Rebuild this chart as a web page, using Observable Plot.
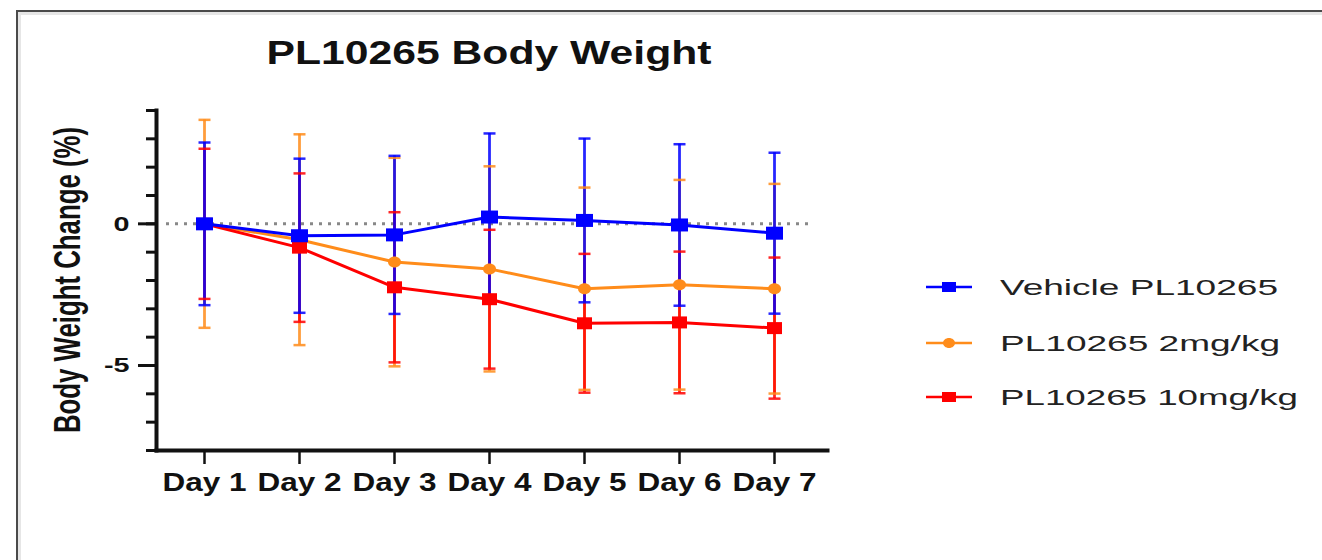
<!DOCTYPE html>
<html>
<head>
<meta charset="utf-8">
<script src="https://cdn.jsdelivr.net/npm/d3@7"></script>
<script src="https://cdn.jsdelivr.net/npm/@observablehq/plot@0.6"></script>
<style>
  html, body { margin: 0; padding: 0; background: #fff; }
  #wrap { position: relative; width: 1322px; height: 560px; overflow: hidden; font-family: "Liberation Sans", Arial, sans-serif; }
  #frame { position: absolute; left: 16px; top: 10px; width: 1400px; height: 700px;
           border-top: 2px solid #4a4a4a; border-left: 2px solid #4a4a4a;
           box-shadow: inset 3px 3px 0 #e6e6e6; }
  #chart { position: absolute; left: 0; top: 0; }
</style>
</head>
<body>
<div id="wrap"><div id="frame"></div><div id="chart"></div></div>
<script>
// ---- data ----
const titleText = "PL10265 Body Weight";
const yLabelText = "Body Weight Change (%)";
const days = ["Day 1", "Day 2", "Day 3", "Day 4", "Day 5", "Day 6", "Day 7"];
const seriesNames = ["Vehicle PL10265", "PL10265 2mg/kg", "PL10265 10mg/kg"];
const seriesColors = ["#0000ff", "#ff8c1a", "#ff0000"];
const vehicleMean = [0, -0.42, -0.39, 0.24, 0.12, -0.04, -0.33];
const vehicleSD   = [2.87, 2.72, 2.79, 2.95, 2.89, 2.85, 2.84];
const mg2Mean     = [0, -0.56, -1.35, -1.59, -2.29, -2.15, -2.29];
const mg2SD       = [3.67, 3.72, 3.68, 3.62, 3.57, 3.70, 3.70];
const mg10Mean    = [0, -0.84, -2.24, -2.66, -3.51, -3.48, -3.68];
const mg10SD      = [2.65, 2.62, 2.65, 2.45, 2.45, 2.50, 2.49];
const yMinorTicks = [-8, -7, -6, -5, -4, -3, -2, -1, 0, 1, 2, 3, 4];
const yMajorTicks = [-5, 0];
const yTickLabels = ["-5", "0"];

// ---- build rows (drawing order: 2mg, 10mg, vehicle on top) ----
const means = [vehicleMean, mg2Mean, mg10Mean];
const sds = [vehicleSD, mg2SD, mg10SD];
const drawOrder = [1, 2, 0];
const rows = drawOrder.flatMap(s => days.map((day, i) => ({
  series: seriesNames[s], day, mean: means[s][i], sd: sds[s][i],
  lo: means[s][i] - sds[s][i], hi: means[s][i] + sds[s][i]
})));
const bySeries = name => rows.filter(r => r.series === name);

// ---- custom marker shapes ----
const rectSymbol = (w, h) => ({ draw(ctx) {
  ctx.moveTo(-w / 2, -h / 2); ctx.lineTo(w / 2, -h / 2); ctx.lineTo(w / 2, h / 2); ctx.lineTo(-w / 2, h / 2); ctx.closePath();
}});
const ellipseSymbol = (a, b) => ({ draw(ctx) {
  const k = 0.5523;
  ctx.moveTo(a, 0);
  ctx.bezierCurveTo(a, k * b, k * a, b, 0, b);
  ctx.bezierCurveTo(-k * a, b, -a, k * b, -a, 0);
  ctx.bezierCurveTo(-a, -k * b, -k * a, -b, 0, -b);
  ctx.bezierCurveTo(k * a, -b, a, -k * b, a, 0);
  ctx.closePath();
}});
const capSymbol = (w) => ({ draw(ctx) { ctx.moveTo(-w / 2, 0); ctx.lineTo(w / 2, 0); } });
const markers = [rectSymbol(17, 13), ellipseSymbol(6.5, 5.5), rectSymbol(15, 12)];
const legendMarkers = [rectSymbol(14, 10), ellipseSymbol(6, 5), rectSymbol(14, 10)];
const cap = capSymbol(12);

const chart = Plot.plot({
  width: 1322,
  height: 560,
  marginTop: 110,
  marginBottom: 110,
  marginLeft: 156,
  marginRight: 495,
  style: { fontFamily: "'Liberation Sans', Arial, sans-serif", color: "#111", background: "transparent" },
  x: { type: "point", domain: days, range: [202, 776], padding: 0, label: null },
  y: { domain: [-8, 4], label: null },
  color: { domain: seriesNames, range: seriesColors },
  marks: [
    Plot.ruleY([0], { stroke: "#888", strokeWidth: 3, strokeDasharray: "3,6", insetLeft: 10, insetRight: 14 }),
    Plot.ruleX(rows, { x: "day", y1: "lo", y2: "hi", stroke: "series", strokeWidth: 2.8, strokeOpacity: 0.85 }),
    Plot.dot(rows, { x: "day", y: "lo", stroke: "series", strokeWidth: 2.5, strokeOpacity: 0.85, fill: "none", symbol: cap, r: 6 }),
    Plot.dot(rows, { x: "day", y: "hi", stroke: "series", strokeWidth: 2.5, strokeOpacity: 0.85, fill: "none", symbol: cap, r: 6 }),
    ...drawOrder.map(s => Plot.line(bySeries(seriesNames[s]), { x: "day", y: "mean", stroke: "series", strokeWidth: 3 })),
    ...drawOrder.map(s => Plot.dot(bySeries(seriesNames[s]), { x: "day", y: "mean", fill: "series", r: 6, symbol: markers[s] })),
    Plot.axisY({ ticks: yMinorTicks, tickSize: 10, tickFormat: () => "", strokeWidth: 3, label: null }),
    Plot.axisY({ ticks: yMajorTicks, tickSize: 18, tickPadding: 9, strokeWidth: 3, label: null,
                 tickFormat: d => yTickLabels[yMajorTicks.indexOf(d)], fontSize: 21, fontWeight: "bold" }),
    Plot.axisX({ tickSize: 14, tickPadding: 8, strokeWidth: 2.5, fontSize: 26, fontWeight: "bold", label: null }),
    Plot.frame({ anchor: "left", strokeWidth: 4 }),
    Plot.frame({ anchor: "bottom", strokeWidth: 4 })
  ]
});
document.getElementById("chart").appendChild(chart);

// ---- post-process: text stretching, title, y label, legend ----
const svg = d3.select(chart);
const stretch = (sel, len) => sel.attr("textLength", len).attr("lengthAdjust", "spacingAndGlyphs");
svg.selectAll('g[aria-label="x-axis tick label"] text').each(function () {
  stretch(d3.select(this), 84);
});
svg.selectAll('g[aria-label="y-axis tick label"] text').each(function () {
  const t = d3.select(this);
  if (this.textContent) stretch(t, this.getComputedTextLength() * 1.37);
});

stretch(svg.append("text")
  .attr("x", 489).attr("y", 64)
  .attr("text-anchor", "middle")
  .attr("font-size", 34).attr("font-weight", "bold").attr("fill", "#111")
  .text(titleText), 445);

stretch(svg.append("text")
  .attr("transform", "translate(80,280) rotate(-90)")
  .attr("text-anchor", "middle")
  .attr("font-size", 36).attr("font-weight", "bold").attr("fill", "#111")
  .text(yLabelText), 306);

const legendY = [287, 343, 397];
const legendLen = [278, 280, 298];
const color = chart.scale("color");
seriesNames.forEach((name, i) => {
  const g = svg.append("g").attr("transform", `translate(0,${legendY[i]})`);
  g.append("line").attr("x1", 926).attr("x2", 972).attr("y1", 0).attr("y2", 0)
    .attr("stroke", color.apply(name)).attr("stroke-width", 2.5);
  g.append("path").attr("transform", "translate(949,0)")
    .attr("d", d3.symbol(legendMarkers[i])()).attr("fill", color.apply(name));
  stretch(g.append("text").attr("x", 1000).attr("dy", "0.35em")
    .attr("text-anchor", "start")
    .attr("font-size", 22).attr("fill", "#222").text(name), legendLen[i]);
});
</script>
</body>
</html>
